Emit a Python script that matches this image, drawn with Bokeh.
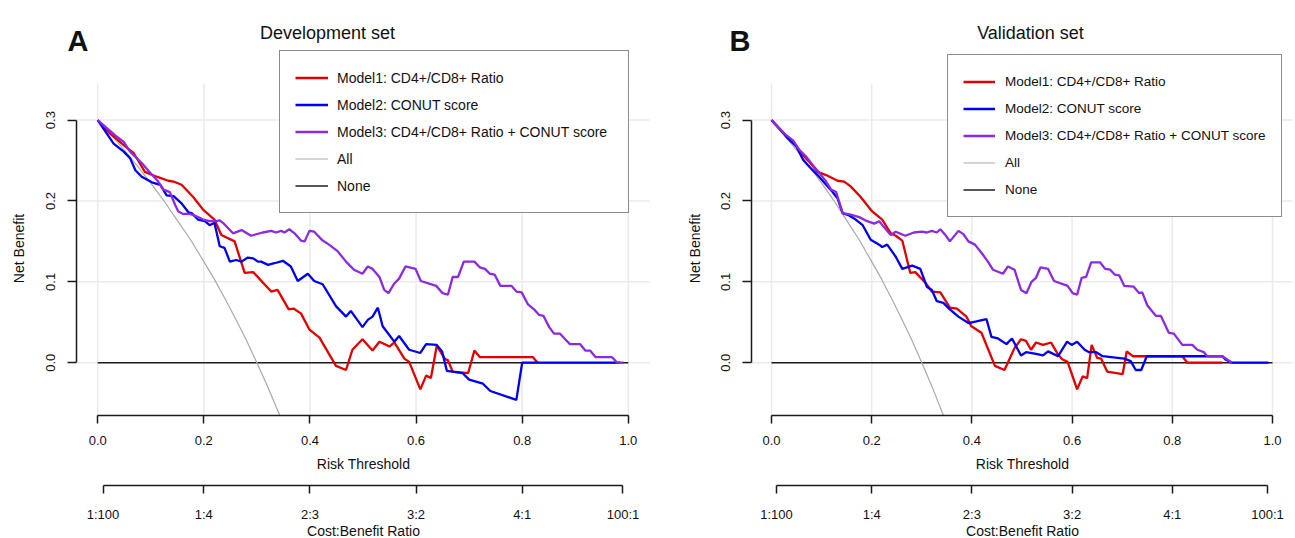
import math
from bokeh.plotting import figure
from bokeh.models import Range1d, LinearAxis, FixedTicker, Legend, LegendItem, Label
from bokeh.layouts import row
from bokeh.embed import file_html
from bokeh.resources import INLINE

FONT = "Liberation Sans"

# ---------------- data ----------------
panel_letters = ["A", "B"]
panel_titles = ["Development set", "Validation set"]
series_labels = ["Model1: CD4+/CD8+ Ratio", "Model2: CONUT score",
                 "Model3: CD4+/CD8+ Ratio + CONUT score", "All", "None"]
x_title = "Risk Threshold"
y_title = "Net Benefit"
cb_title = "Cost:Benefit Ratio"
risk_ticks = [0.0, 0.2, 0.4, 0.6, 0.8, 1.0]
risk_tick_labels = ["0.0", "0.2", "0.4", "0.6", "0.8", "1.0"]
nb_ticks = [0.0, 0.1, 0.2, 0.3]
nb_tick_labels = ["0.0", "0.1", "0.2", "0.3"]
cb_ticks = [0.01, 0.2, 0.4, 0.6, 0.8, 0.99]
cb_tick_labels = ["1:100", "1:4", "2:3", "3:2", "4:1", "100:1"]

# Development set
dev_m1_x = [0.0, 0.024, 0.049, 0.068, 0.089, 0.111, 0.133, 0.143, 0.158, 0.180, 0.199, 0.220, 0.233,
            0.258, 0.277, 0.293, 0.327, 0.339, 0.360, 0.369, 0.383, 0.399, 0.418, 0.449, 0.468, 0.480,
            0.499, 0.518, 0.531, 0.550, 0.559, 0.578, 0.587, 0.608, 0.619, 0.628, 0.639, 0.654, 0.660,
            0.669, 0.698, 0.710, 0.720, 0.820, 0.829]
dev_m1_y = [0.300, 0.283, 0.269, 0.259, 0.236, 0.230, 0.225, 0.224, 0.220, 0.205, 0.189, 0.177, 0.158,
            0.150, 0.111, 0.112, 0.088, 0.090, 0.066, 0.067, 0.061, 0.041, 0.031, -0.004, -0.009, 0.016,
            0.029, 0.015, 0.026, 0.020, 0.025, 0.005, 0.001, -0.033, -0.016, -0.019, 0.021, 0.005, 0.003,
            -0.011, -0.013, 0.015, 0.007, 0.007, 0.000]

dev_m2_x = [0.0, 0.030, 0.049, 0.061, 0.071, 0.083, 0.102, 0.118, 0.130, 0.143, 0.158, 0.171, 0.177,
            0.189, 0.202, 0.211, 0.220, 0.230, 0.239, 0.249, 0.261, 0.271, 0.283, 0.293, 0.302, 0.308,
            0.321, 0.333, 0.349, 0.364, 0.377, 0.396, 0.408, 0.424, 0.449, 0.468, 0.477, 0.499, 0.509,
            0.518, 0.528, 0.537, 0.559, 0.568, 0.587, 0.608, 0.619, 0.639, 0.649, 0.658, 0.688, 0.700,
            0.726, 0.740, 0.789, 0.800, 0.985]
dev_m2_y = [0.300, 0.271, 0.261, 0.253, 0.238, 0.230, 0.223, 0.220, 0.207, 0.206, 0.197, 0.186, 0.185,
            0.177, 0.175, 0.170, 0.173, 0.144, 0.142, 0.125, 0.127, 0.125, 0.130, 0.129, 0.125, 0.125,
            0.121, 0.123, 0.126, 0.119, 0.101, 0.110, 0.101, 0.097, 0.070, 0.057, 0.064, 0.044, 0.053,
            0.057, 0.068, 0.045, 0.026, 0.033, 0.016, 0.012, 0.023, 0.022, 0.014, -0.010, -0.013, -0.021,
            -0.026, -0.035, -0.046, 0.000, 0.000]

dev_m3_x = [0.0, 0.033, 0.049, 0.061, 0.083, 0.096, 0.114, 0.124, 0.136, 0.146, 0.152, 0.161, 0.174,
            0.186, 0.199, 0.211, 0.224, 0.230, 0.236, 0.255, 0.271, 0.289, 0.311, 0.327, 0.336, 0.346,
            0.352, 0.361, 0.371, 0.383, 0.390, 0.399, 0.408, 0.424, 0.436, 0.452, 0.468, 0.483, 0.499,
            0.509, 0.518, 0.531, 0.540, 0.548, 0.559, 0.568, 0.580, 0.599, 0.609, 0.638, 0.650, 0.660,
            0.669, 0.679, 0.690, 0.710, 0.720, 0.730, 0.739, 0.748, 0.759, 0.780, 0.789, 0.799, 0.811,
            0.824, 0.832, 0.840, 0.851, 0.860, 0.871, 0.881, 0.890, 0.909, 0.919, 0.928, 0.938, 0.969,
            0.979, 0.991]
dev_m3_y = [0.300, 0.281, 0.273, 0.261, 0.247, 0.237, 0.224, 0.214, 0.211, 0.195, 0.187, 0.184, 0.184,
            0.181, 0.177, 0.175, 0.175, 0.176, 0.173, 0.160, 0.164, 0.157, 0.161, 0.163, 0.161, 0.163,
            0.161, 0.165, 0.160, 0.151, 0.150, 0.163, 0.162, 0.151, 0.146, 0.138, 0.125, 0.115, 0.110,
            0.119, 0.116, 0.106, 0.090, 0.086, 0.098, 0.104, 0.119, 0.116, 0.101, 0.095, 0.086, 0.084,
            0.106, 0.106, 0.125, 0.125, 0.118, 0.116, 0.110, 0.109, 0.095, 0.095, 0.088, 0.087, 0.072,
            0.065, 0.059, 0.058, 0.044, 0.036, 0.036, 0.029, 0.023, 0.023, 0.015, 0.015, 0.007, 0.007,
            0.000, 0.000]

# Validation set
val_m1_x = [0.0, 0.023, 0.046, 0.059, 0.076, 0.092, 0.109, 0.132, 0.145, 0.158, 0.178, 0.201, 0.221,
            0.238, 0.248, 0.261, 0.277, 0.287, 0.307, 0.320, 0.337, 0.356, 0.370, 0.389, 0.399, 0.419,
            0.446, 0.465, 0.485, 0.498, 0.508, 0.518, 0.528, 0.542, 0.558, 0.572, 0.581, 0.591, 0.610,
            0.621, 0.630, 0.639, 0.650, 0.658, 0.670, 0.701, 0.709, 0.721, 0.820, 0.830, 0.900]
val_m1_y = [0.300, 0.285, 0.271, 0.259, 0.248, 0.236, 0.232, 0.225, 0.224, 0.218, 0.205, 0.187, 0.177,
            0.160, 0.157, 0.151, 0.111, 0.112, 0.099, 0.088, 0.087, 0.068, 0.067, 0.057, 0.045, 0.037,
            -0.004, -0.009, 0.018, 0.029, 0.027, 0.016, 0.025, 0.022, 0.025, 0.010, 0.004, 0.001, -0.033,
            -0.017, -0.019, 0.022, 0.006, 0.005, -0.011, -0.014, 0.014, 0.008, 0.008, 0.000, 0.000]

val_m2_x = [0.0, 0.030, 0.050, 0.063, 0.076, 0.092, 0.109, 0.122, 0.132, 0.142, 0.155, 0.168, 0.182,
            0.198, 0.215, 0.221, 0.231, 0.248, 0.261, 0.281, 0.297, 0.310, 0.320, 0.330, 0.343, 0.356,
            0.373, 0.393, 0.409, 0.429, 0.439, 0.452, 0.469, 0.480, 0.498, 0.508, 0.528, 0.542, 0.552,
            0.572, 0.590, 0.599, 0.610, 0.625, 0.634, 0.648, 0.661, 0.691, 0.704, 0.717, 0.727, 0.738,
            0.749, 0.900, 0.906, 0.919, 0.992]
val_m2_y = [0.300, 0.279, 0.267, 0.251, 0.242, 0.232, 0.220, 0.211, 0.203, 0.185, 0.182, 0.177, 0.170,
            0.152, 0.146, 0.143, 0.146, 0.131, 0.116, 0.120, 0.116, 0.094, 0.090, 0.076, 0.074, 0.066,
            0.057, 0.049, 0.051, 0.054, 0.032, 0.030, 0.023, 0.030, 0.009, 0.013, 0.011, 0.009, 0.014,
            0.008, 0.026, 0.022, 0.026, 0.016, 0.013, 0.013, 0.008, 0.006, 0.005, 0.002, -0.009, -0.009,
            0.008, 0.008, 0.004, 0.000, 0.000]

val_m3_x = [0.0, 0.026, 0.043, 0.056, 0.069, 0.083, 0.099, 0.109, 0.119, 0.129, 0.142, 0.158, 0.175,
            0.191, 0.205, 0.215, 0.224, 0.238, 0.248, 0.267, 0.284, 0.300, 0.310, 0.320, 0.330, 0.337,
            0.347, 0.356, 0.373, 0.383, 0.393, 0.406, 0.419, 0.432, 0.442, 0.462, 0.472, 0.485, 0.498,
            0.509, 0.519, 0.528, 0.537, 0.552, 0.564, 0.591, 0.601, 0.610, 0.619, 0.628, 0.638, 0.656,
            0.666, 0.676, 0.685, 0.694, 0.704, 0.723, 0.734, 0.740, 0.750, 0.767, 0.777, 0.793, 0.803,
            0.820, 0.840, 0.850, 0.863, 0.870, 0.900, 0.919]
val_m3_y = [0.300, 0.283, 0.275, 0.263, 0.255, 0.244, 0.232, 0.224, 0.214, 0.211, 0.185, 0.183, 0.180,
            0.175, 0.172, 0.175, 0.168, 0.158, 0.162, 0.157, 0.161, 0.162, 0.161, 0.163, 0.161, 0.165,
            0.158, 0.150, 0.163, 0.159, 0.150, 0.146, 0.136, 0.125, 0.115, 0.110, 0.119, 0.115, 0.090,
            0.086, 0.100, 0.105, 0.118, 0.116, 0.101, 0.095, 0.086, 0.084, 0.105, 0.106, 0.124, 0.124,
            0.116, 0.115, 0.109, 0.108, 0.095, 0.094, 0.086, 0.087, 0.071, 0.058, 0.058, 0.037, 0.036,
            0.022, 0.022, 0.016, 0.013, 0.008, 0.008, 0.000]

# "All" (treat everyone) curve, same in both panels; it leaves the plot at the bottom edge
all_x = [0.0, 0.025, 0.05, 0.075, 0.10, 0.125, 0.15, 0.175, 0.20, 0.22, 0.24, 0.26, 0.28, 0.30,
         0.32, 0.343]
all_y = [0.300, 0.282, 0.263, 0.243, 0.222, 0.200, 0.176, 0.152, 0.125, 0.103, 0.079, 0.054, 0.028,
         0.000, -0.029, -0.065]
# "None" (treat no one)
none_x = [0.0, 1.0]
none_y = [0.0, 0.0]

series_colors = ["#E00000", "#0000F0", "#8A2BE2", "#A9A9A9", "#1E1E1E"]
series_widths = [2.3, 2.3, 2.3, 1.2, 1.5]

# ---------------- layout (pixels / plot-region limits) ----------------
H = 538
PLOT_X = (-0.04, 1.04)          # plot region in data units (R-style 4% padding)
PLOT_Y = (-0.0653, 0.3453)
Y_FULL = (-0.2174, 0.4479)      # whole canvas height in data units
CB_AXIS_Y = -0.1519             # location of the cost:benefit axis

panels = [
    dict(letter=panel_letters[0], title=panel_titles[0],
         curves=[(dev_m1_x, dev_m1_y), (dev_m2_x, dev_m2_y), (dev_m3_x, dev_m3_y)],
         width=665, x_full=(-0.1832, 1.0701),
         letter_x=67, title_x=327, ytitle_x=18, xtitle_x=363,
         leg_loc=(279, 325), leg_pad=15, leg_gw=33, leg_so=9, leg_lw=276, leg_fs="14px"),
    dict(letter=panel_letters[1], title=panel_titles[1],
         curves=[(val_m1_x, val_m1_y), (val_m2_x, val_m2_y), (val_m3_x, val_m3_y)],
         width=630, x_full=(-0.2116, 1.0459),
         letter_x=64, title_x=365, ytitle_x=29, xtitle_x=357,
         leg_loc=(282, 321), leg_pad=15, leg_gw=32, leg_so=10, leg_lw=261, leg_fs="13.5px"),
]


def style_axis(ax, ticks, labels, bounds, loc):
    ax.fixed_location = loc
    ax.ticker = FixedTicker(ticks=ticks)
    ax.major_label_overrides = {t: l for t, l in zip(ticks, labels)}
    ax.bounds = bounds
    ax.axis_line_color = "#1A1A1A"
    ax.axis_line_width = 1.5
    ax.major_tick_line_color = "#1A1A1A"
    ax.major_tick_line_width = 1.5
    ax.major_tick_in = 0
    ax.major_tick_out = 8
    ax.minor_tick_line_color = None
    ax.major_label_text_font = FONT
    ax.major_label_text_font_size = "13px"
    ax.major_label_text_color = "#111111"


def add_text(p, x, y, text, size, align="center", baseline="middle", style="normal", angle=0.0):
    p.add_layout(Label(x=x, y=y, x_units="screen", y_units="screen", text=text,
                       text_font=FONT, text_font_size=size, text_font_style=style,
                       text_color="#111111", text_align=align, text_baseline=baseline,
                       angle=angle))


def make_panel(cfg):
    p = figure(width=cfg["width"], height=H, output_backend="svg", toolbar_location=None,
               x_range=Range1d(*cfg["x_full"]), y_range=Range1d(*Y_FULL),
               min_border=0, min_border_left=0, min_border_right=0,
               min_border_top=0, min_border_bottom=0)
    p.outline_line_color = None
    p.background_fill_color = "white"
    p.border_fill_color = "white"
    p.xgrid.visible = False
    p.ygrid.visible = False

    # light grid restricted to the plot region
    p.segment(x0=risk_ticks, x1=risk_ticks,
              y0=[PLOT_Y[0]] * len(risk_ticks), y1=[PLOT_Y[1]] * len(risk_ticks),
              line_color="#EBEBEB", line_width=1.5)
    p.segment(x0=[PLOT_X[0]] * len(nb_ticks), x1=[PLOT_X[1]] * len(nb_ticks),
              y0=nb_ticks, y1=nb_ticks, line_color="#EBEBEB", line_width=1.5)

    # y axis
    ya = p.yaxis[0]
    style_axis(ya, nb_ticks, nb_tick_labels, (0.0, 0.3), PLOT_X[0])
    ya.major_tick_out = 9
    ya.major_label_orientation = "parallel"
    ya.major_label_standoff = 12

    # x axis: risk threshold
    xa = p.xaxis[0]
    style_axis(xa, risk_ticks, risk_tick_labels, (0.0, 1.0), PLOT_Y[0])
    xa.major_label_standoff = 12

    # second axis: cost:benefit ratio
    cb = LinearAxis()
    style_axis(cb, cb_ticks, cb_tick_labels, (0.01, 0.99), CB_AXIS_Y)
    cb.major_label_standoff = 13
    p.add_layout(cb, "below")

    # curves
    r_none = p.line(none_x, none_y, line_color=series_colors[4], line_width=series_widths[4])
    r_all = p.line(all_x, all_y, line_color=series_colors[3], line_width=series_widths[3])
    rs = []
    for i, (cx, cy) in enumerate(cfg["curves"]):
        rs.append(p.line(cx, cy, line_color=series_colors[i], line_width=series_widths[i]))

    renderers = rs + [r_all, r_none]
    items = [LegendItem(label=lab, renderers=[r]) for lab, r in zip(series_labels, renderers)]
    leg = Legend(items=items, location=cfg["leg_loc"], margin=0,
                 padding=cfg["leg_pad"], spacing=4,
                 glyph_width=cfg["leg_gw"], glyph_height=23,
                 label_width=cfg["leg_lw"], label_height=23, label_standoff=cfg["leg_so"],
                 label_text_font=FONT, label_text_font_size=cfg["leg_fs"],
                 label_text_color="#111111",
                 border_line_color="#1A1A1A", border_line_width=1.2,
                 background_fill_color="white", background_fill_alpha=1.0)
    p.add_layout(leg, "center")

    # texts (screen px from the canvas bottom-left)
    add_text(p, cfg["letter_x"], 498, cfg["letter"], "29px", align="left",
             baseline="alphabetic", style="bold")
    add_text(p, cfg["title_x"], 506, cfg["title"], "18px", baseline="alphabetic")
    add_text(p, cfg["ytitle_x"], 290, y_title, "14px", angle=math.pi / 2)
    add_text(p, cfg["xtitle_x"], 75, x_title, "14px")
    add_text(p, cfg["xtitle_x"], 8, cb_title, "14px")
    return p


figs = [make_panel(c) for c in panels]
layout = row(*figs)
open("out.html", "w").write(file_html(layout, INLINE))
